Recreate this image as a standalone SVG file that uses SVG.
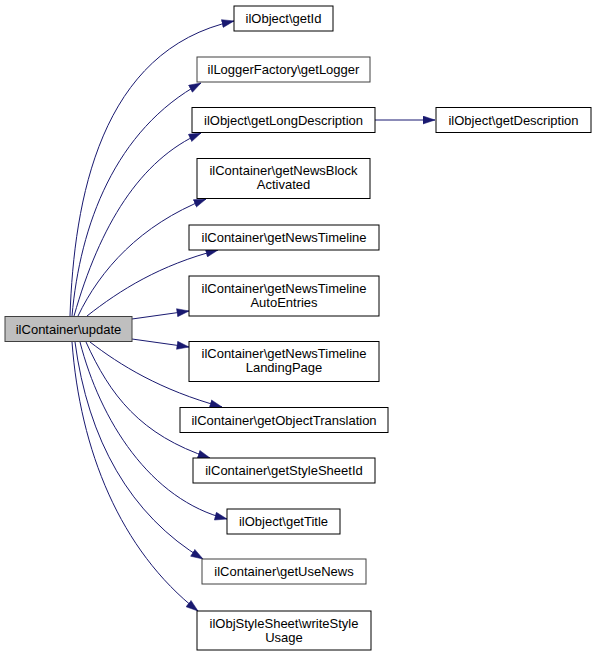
<svg xmlns="http://www.w3.org/2000/svg" width="596" height="657" viewBox="0 0 596 657">
<style>
.n rect{fill:#ffffff;stroke:#000000;stroke-width:1}
.n.g rect{stroke:#404040}
.n.root rect{fill:#bfbfbf;stroke:#404040}
.n text{font-family:"Liberation Sans",Arial,Helvetica,sans-serif;font-size:13px;fill:#000000;text-anchor:middle}
.e path{fill:none;stroke:#191970;stroke-width:1;marker-end:url(#arr)}
</style>
<defs>
<marker id="arr" markerUnits="userSpaceOnUse" markerWidth="13" markerHeight="9" refX="12.5" refY="4.5" orient="auto">
<path d="M0.5,0.5 L12.5,4.5 L0.5,8.5 z" fill="#191970" stroke="#191970" stroke-width="0.5"/>
</marker>
</defs>
<rect width="596" height="657" fill="#ffffff"/>
<g id="edges" class="e">
<path d="M70,316 C74,200 100,50 234,21"/>
<path d="M72,316 C80,225 115,130 201,83"/>
<path d="M74,316 C100,225 140,160 201,133"/>
<path d="M78,316 C100,270 140,225 206,199"/>
<path d="M87,316 C120,290 160,265 218,250"/>
<path d="M132,319 L189,311"/>
<path d="M132,339 L189,347"/>
<path d="M90,342 C120,365 160,390 222,407"/>
<path d="M86,342 C110,395 140,435 210,458"/>
<path d="M80,342 C100,420 150,500 227,519"/>
<path d="M75,342 C88,440 130,515 203,559"/>
<path d="M72,342 C80,450 120,550 198,611"/>
<path d="M375,120 L435,120"/>
</g>
<g id="update" class="n root"><rect x="5" y="316.5" width="127" height="25"/><text x="68.5" y="333.5">ilContainer\update</text></g>
<g id="getId" class="n"><rect x="234" y="6" width="99" height="25"/><text x="283.5" y="23">ilObject\getId</text></g>
<g id="getLogger" class="n g"><rect x="197" y="57" width="173" height="25"/><text x="283.5" y="74">ilLoggerFactory\getLogger</text></g>
<g id="getLongDescription" class="n"><rect x="192" y="107.5" width="183" height="25"/><text x="283.5" y="124.5">ilObject\getLongDescription</text></g>
<g id="getDescription" class="n"><rect x="436" y="107.5" width="155" height="25"/><text x="513.5" y="124.5">ilObject\getDescription</text></g>
<g id="getNewsBlockActivated" class="n"><rect x="197" y="158.5" width="173" height="40"/><text x="283.5" y="175">ilContainer\getNewsBlock</text><text x="283.5" y="189">Activated</text></g>
<g id="getNewsTimeline" class="n"><rect x="189" y="225" width="190" height="25"/><text x="284" y="242">ilContainer\getNewsTimeline</text></g>
<g id="getNewsTimelineAutoEntries" class="n"><rect x="189" y="276" width="190" height="40"/><text x="284" y="292.5">ilContainer\getNewsTimeline</text><text x="284" y="306.5">AutoEntries</text></g>
<g id="getNewsTimelineLandingPage" class="n"><rect x="189" y="341.5" width="190" height="40"/><text x="284" y="358">ilContainer\getNewsTimeline</text><text x="284" y="372">LandingPage</text></g>
<g id="getObjectTranslation" class="n"><rect x="180" y="407.5" width="208" height="25"/><text x="284" y="424.5">ilContainer\getObjectTranslation</text></g>
<g id="getStyleSheetId" class="n"><rect x="193" y="458" width="182" height="25"/><text x="284" y="475">ilContainer\getStyleSheetId</text></g>
<g id="getTitle" class="n"><rect x="227" y="509" width="113" height="25"/><text x="283.5" y="526">ilObject\getTitle</text></g>
<g id="getUseNews" class="n g"><rect x="202" y="559" width="164" height="25"/><text x="284" y="576">ilContainer\getUseNews</text></g>
<g id="writeStyleUsage" class="n"><rect x="197" y="611" width="174" height="39"/><text x="284" y="627.5">ilObjStyleSheet\writeStyle</text><text x="284" y="641.5">Usage</text></g>
</svg>
